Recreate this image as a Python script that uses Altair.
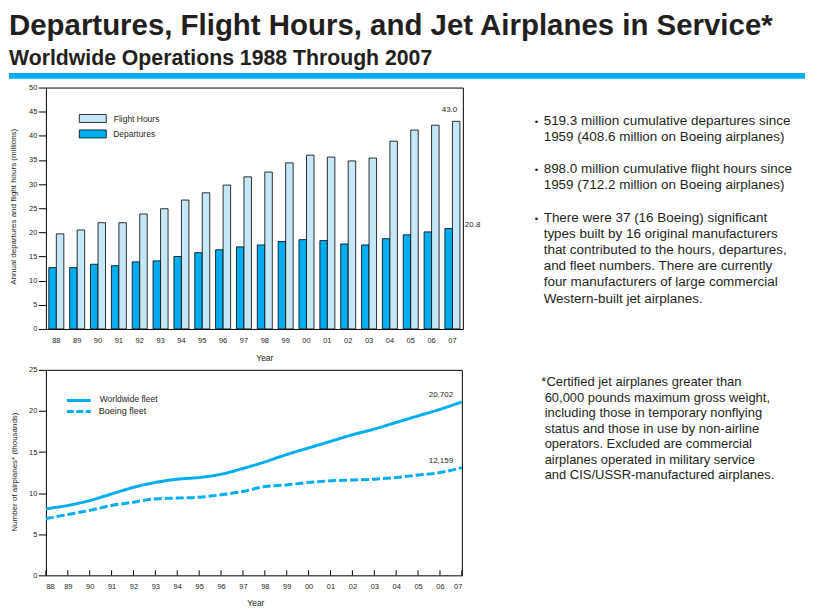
import altair as alt
import pandas as pd

# ---------------- data ----------------
years = [1988, 1989, 1990, 1991, 1992, 1993, 1994, 1995, 1996, 1997,
         1998, 1999, 2000, 2001, 2002, 2003, 2004, 2005, 2006, 2007]
departures = [12.7, 12.7, 13.4, 13.1, 13.9, 14.1, 15.0, 15.8, 16.4, 17.0,
              17.4, 18.1, 18.5, 18.3, 17.6, 17.4, 18.7, 19.5, 20.1, 20.8]
flight_hours = [19.7, 20.5, 22.0, 22.0, 23.8, 24.9, 26.7, 28.2, 29.8, 31.5,
                32.5, 34.4, 36.0, 35.6, 34.8, 35.4, 38.9, 41.2, 42.2, 43.0]
worldwide_fleet = [8.1, 8.5, 9.1, 9.9, 10.7, 11.3, 11.7, 11.9, 12.3, 13.0,
                   13.8, 14.7, 15.5, 16.3, 17.1, 17.8, 18.6, 19.4, 20.2, 21.1]
boeing_fleet = [6.9, 7.4, 7.9, 8.5, 8.9, 9.3, 9.4, 9.5, 9.8, 10.2,
                10.8, 11.0, 11.3, 11.5, 11.6, 11.7, 11.9, 12.2, 12.5, 13.1]
fleet_series = ["Worldwide fleet", "Boeing fleet"]
fleet_end_labels = ["20,702", "12,159"]
bar_series = ["Departures", "Flight Hours"]
top_y_ticks = [0, 5, 10, 15, 20, 25, 30, 35, 40, 45, 50]
bottom_y_ticks = [0, 5, 10, 15, 20, 25]

title_text = "Departures, Flight Hours, and Jet Airplanes in Service*"
subtitle_text = "Worldwide Operations 1988 Through 2007"
bullet_blocks = [
    ["519.3 million cumulative departures since",
     "1959 (408.6 million on Boeing airplanes)"],
    ["898.0 million cumulative flight hours since",
     "1959 (712.2 million on Boeing airplanes)"],
    ["There were 37 (16 Boeing) significant",
     "types built by 16 original manufacturers",
     "that contributed to the hours, departures,",
     "and fleet numbers.  There are currently",
     "four manufacturers of large commercial",
     "Western-built jet airplanes."],
]
footnote_first = "*Certified jet airplanes greater than"
footnote_rest = [
    "60,000 pounds maximum gross weight,",
    "including those in temporary nonflying",
    "status and those in use by non-airline",
    "operators.  Excluded are commercial",
    "airplanes operated in military service",
    "and CIS/USSR-manufactured airplanes.",
]

# ---------------- style ----------------
FONT = "Liberation Sans"
BLUE = "#00AEEF"
LIGHT = "#C4E8F8"
INK = "#231F20"
W1, H1 = 418, 242
W2, H2 = 417, 206
LH = 16.2

one = pd.DataFrame({"k": [0]})


def txt(text, x, y, size, weight="normal", align="left", baseline="alphabetic", lh=None, color=INK):
    kw = dict(text=text, font=FONT, fontSize=size, fontWeight=weight,
              align=align, baseline=baseline, color=color)
    if lh:
        kw["lineHeight"] = lh
    return alt.Chart(one).mark_text(**kw).encode(x=alt.value(x), y=alt.value(y))


def box(x, x2, y, y2, fill, stroke=None, sw=0.0):
    kw = dict(fill=fill)
    if stroke:
        kw.update(stroke=stroke, strokeWidth=sw)
    return alt.Chart(one).mark_rect(**kw).encode(
        x=alt.value(x), x2=alt.value(x2), y=alt.value(y), y2=alt.value(y2))


# ---------------- top panel ----------------
bars_df = pd.DataFrame({
    "year": years * 2,
    "series": [bar_series[0]] * len(years) + [bar_series[1]] * len(years),
    "value": departures + flight_hours,
})

x_top = alt.X("year:O", scale=alt.Scale(paddingInner=0.28, paddingOuter=0.14),
              axis=alt.Axis(title="Year", labelExpr="substring(datum.label, 2)", ticks=False,
                            labelPadding=7.5, labelFontSize=7.5, labelAngle=0,
                            titleFontSize=8.5, titleX=219, titleY=29, titleBaseline="middle"))
y_top = alt.Y("value:Q", scale=alt.Scale(domain=[0, 50], nice=False),
              axis=alt.Axis(values=top_y_ticks, tickCount=len(top_y_ticks), tickSize=7.5,
                            labelPadding=1.5, labelFontSize=7.5,
                            title="Annual departures and flight hours (millions)",
                            titleFontSize=8, titleX=-32, titleY=119, titleAngle=-90,
                            titleAlign="center", titleBaseline="middle"))

bars = alt.Chart(bars_df).mark_bar(stroke="black", strokeWidth=0.8).encode(
    x=x_top,
    y=y_top,
    xOffset=alt.XOffset("series:N", sort=bar_series, scale=alt.Scale(paddingInner=0, paddingOuter=0)),
    color=alt.Color("series:N", scale=alt.Scale(domain=bar_series, range=[BLUE, LIGHT]), legend=None),
)

fh_label = alt.Chart(bars_df).transform_filter(
    "datum.year == 2007 && datum.series == 'Flight Hours'"
).mark_text(font=FONT, fontSize=8, color=INK, dy=-11, dx=-3).encode(
    x="year:O", y="value:Q", text=alt.Text("value:Q", format=".1f"))

dep_label = alt.Chart(bars_df).transform_filter(
    "datum.year == 2007 && datum.series == 'Departures'"
).mark_text(font=FONT, fontSize=8, color=INK, dy=-4, align="left").encode(
    x=alt.value(W1 + 2), y="value:Q", text=alt.Text("value:Q", format=".1f"))

text_layers = []
line_no = 0
for block in bullet_blocks:
    y0 = 37.4 + line_no * LH
    text_layers.append(txt("\u2022", 490, y0, 10))
    text_layers.append(txt(block, 499, y0, 13.5, lh=LH))
    line_no += len(block) + 1

top = alt.layer(
    box(-37, -36, -77.7, -77, "white"),
    box(-37, -36, 274.5, 275.5, "white"),
    txt(title_text, -37, -52.2, 29.5, weight="bold"),
    txt(subtitle_text, -37, -22.8, 21.3, weight="bold"),
    box(-37, 761, -14.7, -8.7, BLUE),
    bars,
    fh_label,
    dep_label,
    box(33.5, 60.5, 27, 35, LIGHT, "black", 0.8),
    box(33.5, 60.5, 42.5, 50.5, BLUE, "black", 0.8),
    txt("Flight Hours", 68, 32, 8.5, baseline="middle"),
    txt("Departures", 67.5, 47, 8.5, baseline="middle"),
    *text_layers,
).properties(width=W1, height=H1)

# ---------------- bottom panel ----------------
fleet_df = pd.DataFrame({
    "year": years * 2,
    "series": [fleet_series[0]] * len(years) + [fleet_series[1]] * len(years),
    "value": worldwide_fleet + boeing_fleet,
})
end_df = pd.DataFrame({
    "year": [years[-1], years[-1]],
    "value": [worldwide_fleet[-1], boeing_fleet[-1]],
    "label": fleet_end_labels,
})
ticks_df = pd.DataFrame({"year": years})

x_bot = alt.X("year:Q", scale=alt.Scale(domain=[years[0], years[-1]], nice=False, zero=False),
              axis=alt.Axis(values=years, tickCount=len(years), format="d",
                            labelExpr="substring(datum.label, 2)",
                            ticks=False, labelPadding=7.5, labelFontSize=7.5,
                            title="Year", titleFontSize=8.5, titleX=210, titleY=27,
                            titleBaseline="middle"))
y_bot = alt.Y("value:Q", scale=alt.Scale(domain=[0, 25], nice=False),
              axis=alt.Axis(values=bottom_y_ticks, tickCount=len(bottom_y_ticks), tickSize=7.5,
                            labelPadding=1.5, labelFontSize=7.5,
                            title="Number of airplanes* (thousands)",
                            titleFontSize=8, titleX=-31, titleY=102, titleAngle=-90,
                            titleAlign="center", titleBaseline="middle"))

lines = alt.Chart(fleet_df).mark_line(strokeWidth=3, color=BLUE, interpolate="monotone").encode(
    x=x_bot,
    y=y_bot,
    strokeDash=alt.StrokeDash("series:N", scale=alt.Scale(domain=fleet_series, range=[[1, 0], [8, 3]]),
                              legend=None),
)

inner_ticks = alt.Chart(ticks_df).mark_rule(color="black", strokeWidth=1).encode(
    x="year:Q", y=alt.value(H2 - 5), y2=alt.value(H2))

end_labels = alt.Chart(end_df).mark_text(font=FONT, fontSize=8, color=INK, dx=-21, dy=-7).encode(
    x="year:Q", y="value:Q", text="label:N")

leg_solid = alt.Chart(one).mark_rule(color=BLUE, strokeWidth=3).encode(
    x=alt.value(21), x2=alt.value(45), y=alt.value(30.7))
leg_dash = alt.Chart(one).mark_rule(color=BLUE, strokeWidth=3, strokeDash=[7, 2.5]).encode(
    x=alt.value(21), x2=alt.value(45), y=alt.value(41.7))

bottom = alt.layer(
    box(-37, -36, -6, -5, "white"),
    lines,
    inner_ticks,
    end_labels,
    leg_solid,
    leg_dash,
    txt("Worldwide fleet", 54, 29.5, 8.5, baseline="middle"),
    txt("Boeing fleet", 53, 41.5, 9, baseline="middle"),
    txt(footnote_first, 496.7, 16.6, 13),
    txt(footnote_rest, 500, 16.6 + 15.5, 13, lh=15.5),
).properties(width=W2, height=H2)

chart = alt.vconcat(top, bottom, spacing=0, padding=0).configure_view(
    stroke="black", strokeWidth=1
).configure_axis(
    labelFont=FONT, titleFont=FONT, labelColor=INK, titleColor=INK, tickColor="black",
    grid=False, domain=False, titleFontWeight="normal", labelOverlap=False
)

chart.save("out.html", embed_options={"renderer": "svg", "actions": False})
